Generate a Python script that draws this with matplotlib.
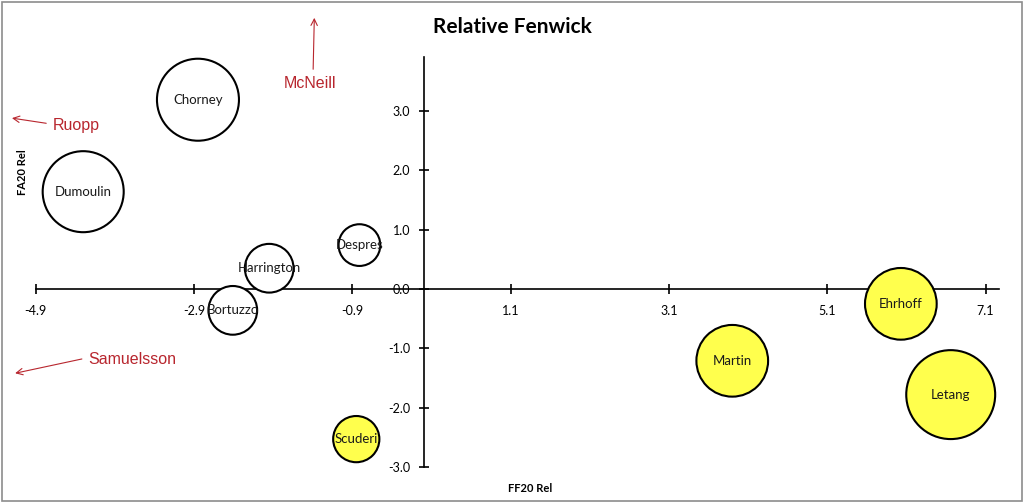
import matplotlib.pyplot as plt
import numpy as np

plt.rcParams["font.family"] = ["Lato", "DejaVu Sans"]

players = ["Chorney", "Dumoulin", "Harrington", "Despres", "Bortuzzo",
           "Scuderi", "Martin", "Ehrhoff", "Letang"]
ff20_rel = [-2.85, -4.30, -1.95, -0.81, -2.41, -0.85, 3.90, 6.03, 6.66]
fa20_rel = [3.19, 1.64, 0.35, 0.74, -0.36, -2.53, -1.21, -0.25, -1.78]
bubble_val = [85, 83, 30, 22, 30, 27, 65, 65, 100]
highlight = [False, False, False, False, False, True, True, True, True]

# off-chart players (arrows)
off_names = ["McNeill", "Ruopp", "Samuelsson"]
off_text_xy = [(-1.43, 3.46), (-4.68, 2.75), (-4.23, -1.18)]
off_arrow_xy = [(-1.38, 4.57), (-5.20, 2.88), (-5.16, -1.42)]

xticks = [-4.9, -2.9, -0.9, 1.1, 3.1, 5.1, 7.1]
yticks = [-3.0, -2.0, -1.0, 0.0, 1.0, 2.0, 3.0]

W, H = 1025, 504
fig = plt.figure(figsize=(W / 100, H / 100), dpi=100)
ax = fig.add_axes([35.7 / W, 1 - 467 / H, (999 - 35.7) / W, (467 - 57) / H])
ax.set_xlim(-4.9, 7.27)
ax.set_ylim(-3.0, 3.91)

# frame around the whole chart
fig.patches.append(plt.Rectangle((2 / W, 3 / H), 1020 / W, 499 / H,
                                 transform=fig.transFigure, fill=False,
                                 edgecolor="#8c8c8c", lw=1.2))

scale = 41.0
colors = ["#ffff4d" if h else "white" for h in highlight]
ax.scatter(ff20_rel, fa20_rel, s=np.array(bubble_val) * scale, c=colors,
           edgecolors="black", linewidths=1.5, zorder=3, clip_on=False)
for name, x, y in zip(players, ff20_rel, fa20_rel):
    ax.text(x, y, name, ha="center", va="center", fontsize=9.5, zorder=4,
            color="#1a1a1a")

for name, txy, axy in zip(off_names, off_text_xy, off_arrow_xy):
    if name == "McNeill":
        ha, va, rel = "center", "center", (0.55, 1.0)
    else:
        ha, va, rel = "left", "center", (0.0, 0.6)
    ax.annotate(name, xy=axy, xytext=txy, ha=ha, va=va, fontsize=11.5,
                color="#b8262e", family="Liberation Sans",
                annotation_clip=False,
                arrowprops=dict(arrowstyle="->", color="#b8262e", lw=0.8,
                                relpos=rel, shrinkA=3, shrinkB=0))

# axes crossing at zero
for s in ["top", "right"]:
    ax.spines[s].set_visible(False)
ax.spines["left"].set_position(("data", 0))
ax.spines["bottom"].set_position(("data", 0))
ax.spines["left"].set_linewidth(1.2)
ax.spines["bottom"].set_linewidth(1.2)

ax.set_xticks(xticks)
ax.set_xticklabels([f"{v:.1f}" for v in xticks])
ax.set_yticks(yticks)
ax.set_yticklabels([f"{v:.1f}" for v in yticks])
ax.tick_params(axis="both", direction="inout", length=7, width=1.2,
               labelsize=9)
ax.tick_params(axis="x", pad=8)
ax.tick_params(axis="y", pad=6)

fig.text(512 / W, 1 - 27 / H, "Relative Fenwick", ha="center", va="center",
         fontsize=15, fontweight="bold")
fig.text(530 / W, 1 - 488 / H, "FF20 Rel", ha="center", va="center",
         fontsize=8, fontweight="bold")
fig.text(22 / W, 1 - 172 / H, "FA20 Rel", ha="center", va="center",
         fontsize=8, fontweight="bold", rotation=90)

fig.savefig("out.png", dpi=100)
